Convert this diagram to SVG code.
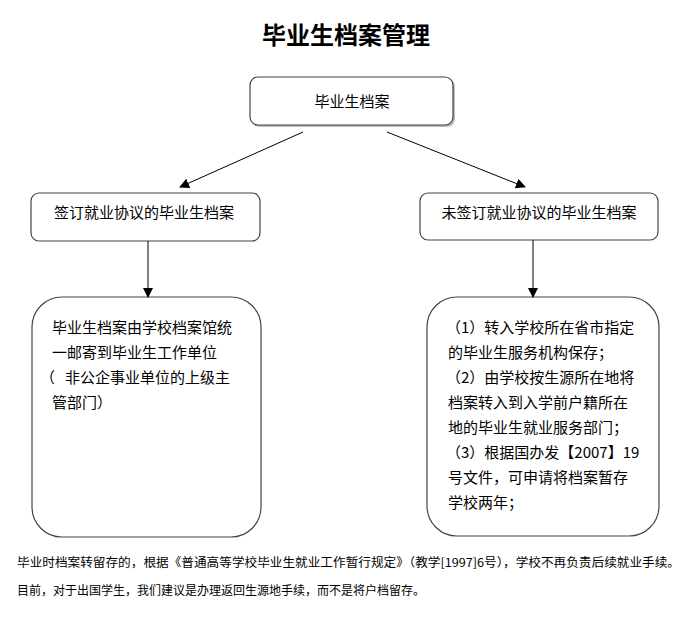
<svg xmlns="http://www.w3.org/2000/svg" width="686" height="619" viewBox="0 0 686 619">
<style>
text{font-family:"Noto Sans CJK SC","Microsoft YaHei",sans-serif;fill:#000}
.box{fill:#fff;stroke:#444;stroke-width:1.2}
.shadow{fill:#bbb;stroke:none}
.lbl{font-size:15px;text-anchor:middle}
.body{font-size:15px}
.note{font-size:12px}
.conn line{stroke:#000;stroke-width:1}
</style>
<defs>
<marker id="arr" markerWidth="10" markerHeight="10" refX="9" refY="5" orient="auto" markerUnits="userSpaceOnUse">
<path d="M0,0 L10,5 L0,10 z" fill="#000"/>
</marker>
</defs>
<rect width="686" height="619" fill="#fff"/>
<text x="346" y="44" style="font-size:24px;font-weight:bold;text-anchor:middle">毕业生档案管理</text>
<g id="root">
<rect class="shadow" x="252" y="79" width="203" height="48" rx="8"/>
<rect class="box" x="250" y="77" width="203" height="48" rx="8"/>
<text class="lbl" x="352" y="107">毕业生档案</text>
</g>
<g id="signed">
<rect class="box" x="31" y="193" width="229" height="48" rx="8"/>
<text class="lbl" x="144" y="218">签订就业协议的毕业生档案</text>
</g>
<g id="unsigned">
<rect class="box" x="420" y="193" width="238" height="47" rx="8"/>
<text class="lbl" x="539" y="218">未签订就业协议的毕业生档案</text>
</g>
<g id="signed-detail">
<rect class="box" x="32" y="297" width="229" height="240" rx="30"/>
<text class="body" x="52" y="333">毕业生档案由学校档案馆统</text>
<text class="body" x="52" y="358">一邮寄到毕业生工作单位</text>
<text class="body" x="40" y="383">（<tspan x="65">非公企事业单位的上级主</tspan></text>
<text class="body" x="52" y="408">管部门）</text>
</g>
<g id="unsigned-detail">
<rect class="box" x="427" y="297" width="232" height="239" rx="30"/>
<text class="body" x="446" y="333">（1）转入学校所在省市指定</text>
<text class="body" x="448" y="358">的毕业生服务机构保存；</text>
<text class="body" x="446" y="383">（2）由学校按生源所在地将</text>
<text class="body" x="448" y="408">档案转入到入学前户籍所在</text>
<text class="body" x="448" y="433">地的毕业生就业服务部门；</text>
<text class="body" x="446" y="458">（3）根据国办发【2007】19</text>
<text class="body" x="448" y="483">号文件，可申请将档案暂存</text>
<text class="body" x="448" y="508">学校两年；</text>
</g>
<g id="connectors" class="conn">
<line x1="303" y1="132" x2="180" y2="187" marker-end="url(#arr)"/>
<line x1="387" y1="132" x2="525" y2="187" marker-end="url(#arr)"/>
<line x1="148" y1="241" x2="148" y2="297" marker-end="url(#arr)"/>
<line x1="533" y1="240" x2="533" y2="297" marker-end="url(#arr)"/>
</g>
<text class="note" x="17" y="567" textLength="663" lengthAdjust="spacingAndGlyphs">毕业时档案转留存的，根据《普通高等学校毕业生就业工作暂行规定》（教学[1997]6号），学校不再负责后续就业手续。</text>
<text class="note" x="17" y="595" textLength="408" lengthAdjust="spacingAndGlyphs">目前，对于出国学生，我们建议是办理返回生源地手续，而不是将户档留存。</text>
</svg>
